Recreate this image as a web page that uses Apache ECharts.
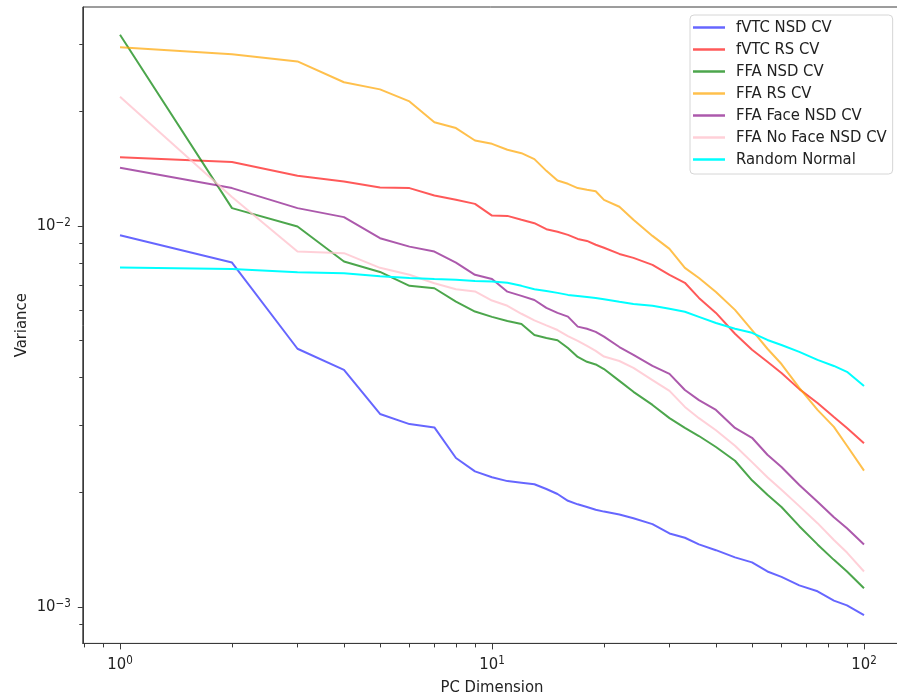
<!DOCTYPE html>
<html><head><meta charset="utf-8">
<script src="https://cdn.jsdelivr.net/npm/echarts@6/dist/echarts.min.js"></script>
<style>html,body{margin:0;padding:0;background:#fff}#main{width:897px;height:695px}</style>
</head><body><div id="main"></div>
<script>
const pcDims = [1,2,3,4,5,6,7,8,9,10,11,12,13,14,15,16,17,18,19,20,22,24,27,30,33,36,40,45,50,55,60,67,75,83,90,100];
const fvtcNsdCv = [0.00945,0.00801,0.00476,0.00419,0.00321,0.00302,0.00296,0.00246,0.00227,0.00219,0.00214,0.00212,0.00210,0.00204,0.00198,0.00190,0.00186,0.00183,0.00180,0.00178,0.00175,0.00171,0.00165,0.00156,0.00152,0.00146,0.00141,0.00135,0.00131,0.00124,0.00120,0.00114,0.00110,0.00104,0.00101,0.000953];
const fvtcRsCv = [0.01514,0.0147,0.01353,0.01307,0.0126,0.01256,0.01201,0.0117,0.01142,0.01064,0.01062,0.01037,0.01016,0.0098,0.00965,0.00947,0.00924,0.00913,0.00892,0.00876,0.00844,0.00824,0.0079,0.00744,0.00709,0.00647,0.00591,0.00521,0.00473,0.0044,0.00411,0.00373,0.00343,0.00315,0.00295,0.00269];
const ffaNsdCv = [0.0317,0.01113,0.00996,0.00806,0.00757,0.00696,0.00686,0.00633,0.00596,0.00577,0.00563,0.00553,0.00517,0.00508,0.00501,0.00478,0.00453,0.0044,0.00433,0.00421,0.00392,0.00367,0.00339,0.00313,0.00295,0.00281,0.00263,0.00242,0.00215,0.00197,0.00183,0.00163,0.00146,0.00133,0.00124,0.00112];
const ffaRsCv = [0.0294,0.0282,0.027,0.0238,0.0228,0.0212,0.0187,0.01805,0.01674,0.01641,0.01583,0.01551,0.01496,0.01394,0.01315,0.01289,0.01256,0.01243,0.01232,0.0117,0.01122,0.01037,0.00941,0.0087,0.00776,0.0073,0.00671,0.00602,0.00533,0.00476,0.00434,0.00376,0.00329,0.00297,0.00265,0.00228];
const ffaFaceNsdCv = [0.0142,0.01256,0.01113,0.01054,0.00928,0.00882,0.00856,0.00801,0.00744,0.00725,0.00672,0.00655,0.00639,0.00609,0.00591,0.00578,0.00544,0.00537,0.00527,0.00512,0.00481,0.00459,0.00429,0.00409,0.00371,0.00349,0.00329,0.00295,0.00278,0.00251,0.00233,0.00209,0.00189,0.00172,0.00161,0.00146];
const ffaNoFaceNsdCv = [0.0218,0.01191,0.00856,0.00848,0.00776,0.00744,0.00707,0.00682,0.00673,0.00637,0.00617,0.00588,0.00565,0.00548,0.00533,0.00514,0.00499,0.00484,0.0047,0.00454,0.00442,0.00424,0.00394,0.00369,0.00335,0.00313,0.00291,0.00265,0.0024,0.00219,0.00203,0.00184,0.00166,0.0015,0.00139,0.00124];
const randomNormal = [0.00777,0.0077,0.00756,0.00751,0.00738,0.0073,0.00725,0.00722,0.00717,0.00714,0.00709,0.00696,0.00682,0.00675,0.00667,0.00659,0.00655,0.00651,0.00647,0.00642,0.00632,0.00624,0.00617,0.00606,0.00595,0.00577,0.00556,0.00537,0.00524,0.00502,0.00487,0.00467,0.00445,0.00429,0.00414,0.0038];

const seriesNames = ['fVTC NSD CV','fVTC RS CV','FFA NSD CV','FFA RS CV','FFA Face NSD CV','FFA No Face NSD CV','Random Normal'];
const seriesValues = [fvtcNsdCv, fvtcRsCv, ffaNsdCv, ffaRsCv, ffaFaceNsdCv, ffaNoFaceNsdCv, randomNormal];
const seriesColors = ['rgba(0,0,255,0.6)','rgba(255,0,0,0.65)','rgba(0,128,0,0.7)','rgba(255,165,0,0.7)','rgba(128,0,128,0.65)','rgba(255,192,203,0.75)','rgba(0,255,255,1)'];

const xMajorTicks = [1,10,100];
const xTickBase = ['10','10','10'];
const xTickExp = ['0','1','2'];
const xMinorTicks = [0.8,0.9,2,3,4,5,6,7,8,9,20,30,40,50,60,70,80,90];
const yMajorTicks = [0.001,0.01];
const yTickBase = ['10','10'];
const yTickExp = ['−3','−2'];
const yMinorTicks = [0.0009,0.002,0.003,0.004,0.005,0.006,0.007,0.008,0.009,0.02,0.03];

const X_MIN = 0.7943, X_MAX = 125.89, Y_MIN = 0.000803, Y_MAX = 0.0375;
const FONT = "'DejaVu Sans Condensed', 'DejaVu Sans', sans-serif";
const FS = 16.5;
const INK = '#222';

function tickFormatter(ticks, bases, exps) {
  return function (v) {
    for (let i = 0; i < ticks.length; i++) {
      if (Math.abs(Math.log10(v) - Math.log10(ticks[i])) < 1e-6) return '{b|' + bases[i] + '}{s|' + exps[i] + '}';
    }
    return '';
  };
}
const richTick = {
  b: {fontFamily: FONT, fontSize: FS, color: INK, lineHeight: 18},
  s: {fontFamily: FONT, fontSize: 11.5, color: INK, verticalAlign: 'top', lineHeight: 12}
};

const chart = echarts.init(document.getElementById('main'), null, {renderer: 'canvas'});
chart.setOption({
  animation: false,
  backgroundColor: '#fff',
  grid: {left: 82.8, top: 7, width: 818.4, height: 636.4, show: true, borderColor: '#3a3a3a', borderWidth: 1, outerBoundsMode: 'none', containLabel: false},
  xAxis: [
    {type: 'log', logBase: 10, min: X_MIN, max: X_MAX, position: 'bottom',
     name: 'PC Dimension', nameLocation: 'middle', nameGap: 36, nameMoveOverlap: false,
     nameTextStyle: {fontFamily: FONT, fontSize: FS, color: INK},
     axisLine: {show: true, lineStyle: {color: '#3a3a3a', width: 1}},
     axisTick: {show: true, customValues: xMajorTicks, length: 6, lineStyle: {color: '#3a3a3a'}},
     axisLabel: {show: true, customValues: xMajorTicks, margin: 12, formatter: tickFormatter(xMajorTicks, xTickBase, xTickExp), rich: richTick},
     splitLine: {show: false}},
    {type: 'log', logBase: 10, min: X_MIN, max: X_MAX, position: 'bottom',
     axisLine: {show: false},
     axisTick: {show: true, customValues: xMinorTicks, length: 4, lineStyle: {color: '#3a3a3a'}},
     axisLabel: {show: false}, splitLine: {show: false}}
  ],
  yAxis: [
    {type: 'log', logBase: 10, min: Y_MIN, max: Y_MAX, position: 'left',
     name: 'Variance', nameLocation: 'middle', nameGap: 53, nameMoveOverlap: false,
     nameTextStyle: {fontFamily: FONT, fontSize: FS, color: INK},
     axisLine: {show: true, lineStyle: {color: '#3a3a3a', width: 1}},
     axisTick: {show: true, customValues: yMajorTicks, length: 5, lineStyle: {color: '#3a3a3a'}},
     axisLabel: {show: true, customValues: yMajorTicks, margin: 12, formatter: tickFormatter(yMajorTicks, yTickBase, yTickExp), rich: richTick},
     splitLine: {show: false}},
    {type: 'log', logBase: 10, min: Y_MIN, max: Y_MAX, position: 'left',
     axisLine: {show: false},
     axisTick: {show: true, customValues: yMinorTicks, length: 3.5, lineStyle: {color: '#3a3a3a'}},
     axisLabel: {show: false}, splitLine: {show: false}}
  ],
  legend: {
    orient: 'vertical', left: 690, top: 15,
    padding: [4, 6, 6, 3], itemGap: 5, itemWidth: 32, itemHeight: 2.5,
    icon: 'rect',
    backgroundColor: '#fff', borderColor: '#d6d6d6', borderWidth: 1, borderRadius: 4,
    textStyle: {fontFamily: FONT, fontSize: FS, color: INK, lineHeight: 16, padding: [0, 0, 0, 6]},
    data: seriesNames
  },
  series: seriesNames.map((name, i) => ({
    name: name, type: 'line', xAxisIndex: 0, yAxisIndex: 0,
    symbol: 'none', showSymbol: false,
    color: seriesColors[i],
    lineStyle: {color: seriesColors[i], width: 2},
    data: pcDims.map((x, j) => [x, seriesValues[i][j]])
  }))
});
</script>
</body></html>
